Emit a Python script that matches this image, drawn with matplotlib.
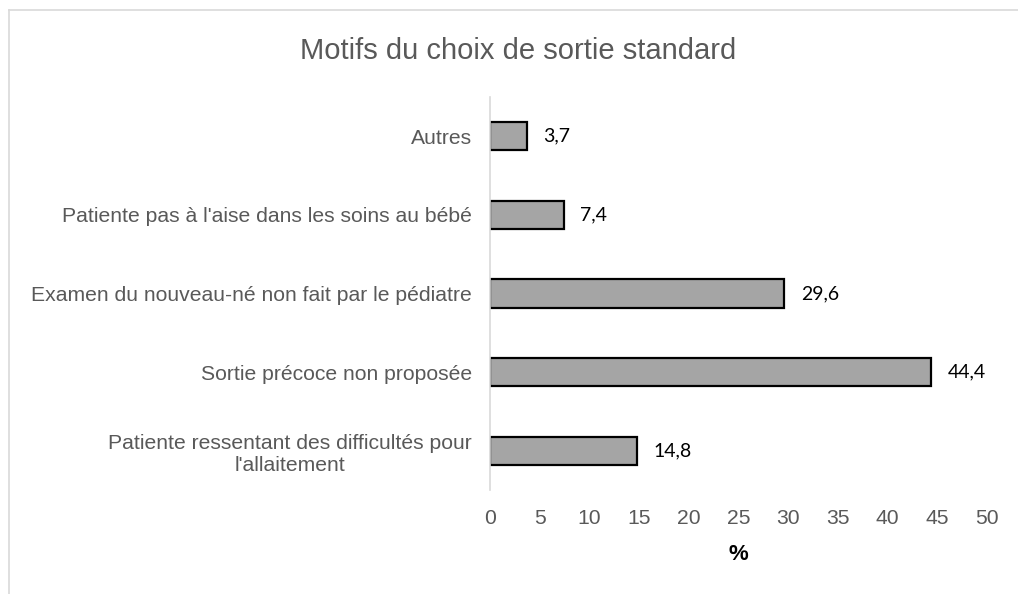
import matplotlib.pyplot as plt
from matplotlib.lines import Line2D

categories = ["Patiente ressentant des difficultés pour\nl'allaitement",
              "Sortie précoce non proposée",
              "Examen du nouveau-né non fait par le pédiatre",
              "Patiente pas à l'aise dans les soins au bébé",
              "Autres"]
values = [14.8, 44.4, 29.6, 7.4, 3.7]
value_labels = ["14,8", "44,4", "29,6", "7,4", "3,7"]
xticks = [0, 5, 10, 15, 20, 25, 30, 35, 40, 45, 50]

plt.rcParams['font.family'] = ['Liberation Sans', 'DejaVu Sans']
grey = '#595959'

fig = plt.figure(figsize=(10.18, 5.94), dpi=100)
ax = fig.add_axes([490/1018, 1-490/594, 497/1018, 393/594])

ypos = range(len(categories))
bars = ax.barh(ypos, values, height=0.36, color='#a5a5a5', edgecolor='black', linewidth=1.6)
for b, lab in zip(bars, value_labels):
    ax.annotate(lab, (b.get_width(), b.get_y() + b.get_height()/2), xytext=(12, 0),
                textcoords='offset points', va='center', ha='left',
                fontsize=14, family=['Lato', 'DejaVu Sans'], color='black')

ax.set_xlim(0, 50)
ax.set_ylim(-0.5, len(categories) - 0.5)
ax.set_xticks(xticks)
ax.set_yticks(list(ypos))
ax.set_yticklabels(categories, multialignment='center')
ax.tick_params(axis='both', length=0, labelsize=15.2, labelcolor=grey)
ax.tick_params(axis='y', pad=13)
ax.tick_params(axis='x', pad=14)
for s in ['top', 'right', 'bottom']:
    ax.spines[s].set_visible(False)
ax.spines['left'].set_color('#d9d9d9')
ax.spines['left'].set_linewidth(1.2)

ax.set_xlabel('%', fontsize=16, fontweight='bold', color='black', labelpad=11)

fig.text(518/1018, 1-51/594, 'Motifs du choix de sortie standard', ha='center', va='center',
         fontsize=21, color=grey)

# chart frame (only left and top edges visible in the crop)
fig.add_artist(Line2D([9/1018, 9/1018], [0, 1-10/594], color='#d9d9d9', lw=1.2))
fig.add_artist(Line2D([9/1018, 1], [1-10/594, 1-10/594], color='#d9d9d9', lw=1.2))

fig.savefig('out.png', dpi=100)
